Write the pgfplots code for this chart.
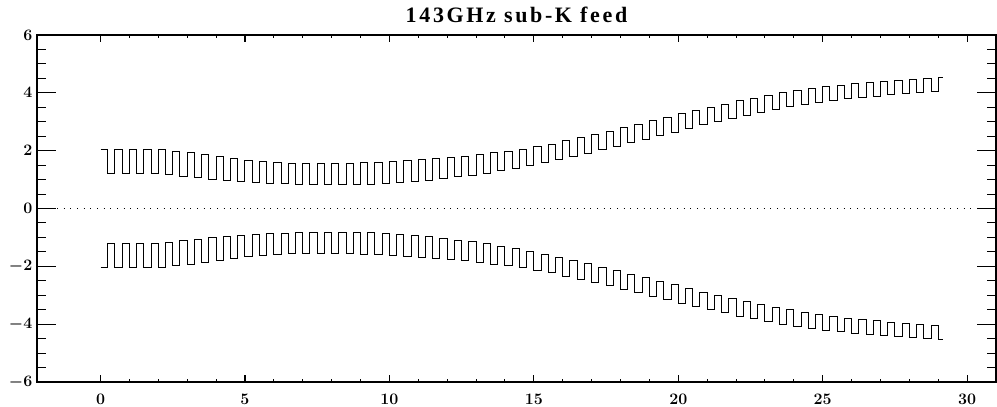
\documentclass[border=0pt]{standalone}
\usepackage{fontspec}
\setmainfont{Liberation Serif}
\usepackage{pgfplots}
\pgfplotsset{compat=1.18}
\newfontfamily\titlefont[LetterSpace=12]{Liberation Serif}
\begin{document}
\begin{tikzpicture}
\pgfplotsset{
 common/.style={
  scale only axis, width=719.25pt, height=260.25pt, at={(0,0)}, anchor=south west,
  xmin=-2.2, xmax=31, ymin=-6, ymax=6,
  axis line style={line width=0.9pt},
  every tick/.style={black, line width=0.8pt},
  tick label style={font=\fontsize{13}{15}\selectfont\boldmath},
 }
}
\begin{axis}[common, xtick={0,5,...,30}, minor x tick num=4, ytick=\empty,
  major tick length=5.25pt, minor tick length=2.6pt,
  xticklabel style={yshift=-5.5pt},
  title={\titlefont\bfseries 143GHz sub-K feed},
  title style={at={(0.5,1)}, anchor=base, yshift=3pt, font=\fontsize{16.5}{19}\selectfont}]
\addplot[black, line width=0.75pt, dash pattern=on 0.75pt off 4.25pt] coordinates {(-2.2,0) (31,0)};
\addplot[const plot, black, line width=0.75pt] coordinates {
(0,2.04)(0.25,1.21)(0.5,2.04)(0.75,1.21)(1,2.04)(1.25,1.21)(1.5,2.04)(1.75,1.21)(2,2.03)(2.25,1.18)(2.5,1.98)(2.75,1.12)(3,1.93)(3.25,1.07)(3.5,1.87)(3.75,1.02)(4,1.80)(4.25,0.97)(4.5,1.72)(4.75,0.93)(5,1.66)(5.25,0.89)(5.5,1.61)(5.75,0.87)(6,1.58)(6.25,0.85)(6.5,1.57)(6.75,0.84)(7,1.56)(7.25,0.83)(7.5,1.56)(7.75,0.83)(8,1.57)(8.25,0.83)(8.5,1.57)(8.75,0.83)(9,1.58)(9.25,0.84)(9.5,1.59)(9.75,0.86)(10,1.61)(10.25,0.89)(10.5,1.65)(10.75,0.93)(11,1.69)(11.25,0.98)(11.5,1.72)(11.75,1.03)(12,1.76)(12.25,1.09)(12.5,1.81)(12.75,1.15)(13,1.86)(13.25,1.22)(13.5,1.92)(13.75,1.30)(14,1.98)(14.25,1.39)(14.5,2.05)(14.75,1.48)(15,2.13)(15.25,1.58)(15.5,2.23)(15.75,1.68)(16,2.34)(16.25,1.80)(16.5,2.45)(16.75,1.91)(17,2.56)(17.25,2.03)(17.5,2.67)(17.75,2.15)(18,2.79)(18.25,2.27)(18.5,2.91)(18.75,2.40)(19,3.03)(19.25,2.52)(19.5,3.15)(19.75,2.64)(20,3.27)(20.25,2.77)(20.5,3.39)(20.75,2.89)(21,3.50)(21.25,3.01)(21.5,3.61)(21.75,3.12)(22,3.72)(22.25,3.23)(22.5,3.82)(22.75,3.33)(23,3.92)(23.25,3.43)(23.5,4.00)(23.75,3.51)(24,4.08)(24.25,3.60)(24.5,4.15)(24.75,3.67)(25,4.22)(25.25,3.74)(25.5,4.27)(25.75,3.79)(26,4.32)(26.25,3.84)(26.5,4.36)(26.75,3.88)(27,4.40)(27.25,3.93)(27.5,4.43)(27.75,3.96)(28,4.46)(28.25,4.00)(28.5,4.49)(28.75,4.03)(29,4.52)(29.15,4.52)
};
\addplot[const plot, black, line width=0.75pt] coordinates {
(0,-2.04)(0.25,-1.21)(0.5,-2.04)(0.75,-1.21)(1,-2.04)(1.25,-1.21)(1.5,-2.04)(1.75,-1.21)(2,-2.03)(2.25,-1.18)(2.5,-1.98)(2.75,-1.12)(3,-1.93)(3.25,-1.07)(3.5,-1.87)(3.75,-1.02)(4,-1.80)(4.25,-0.97)(4.5,-1.72)(4.75,-0.93)(5,-1.66)(5.25,-0.89)(5.5,-1.61)(5.75,-0.87)(6,-1.58)(6.25,-0.85)(6.5,-1.57)(6.75,-0.84)(7,-1.56)(7.25,-0.83)(7.5,-1.56)(7.75,-0.83)(8,-1.57)(8.25,-0.83)(8.5,-1.57)(8.75,-0.83)(9,-1.58)(9.25,-0.84)(9.5,-1.59)(9.75,-0.86)(10,-1.61)(10.25,-0.89)(10.5,-1.65)(10.75,-0.93)(11,-1.69)(11.25,-0.98)(11.5,-1.72)(11.75,-1.03)(12,-1.76)(12.25,-1.09)(12.5,-1.81)(12.75,-1.15)(13,-1.86)(13.25,-1.22)(13.5,-1.92)(13.75,-1.30)(14,-1.98)(14.25,-1.39)(14.5,-2.05)(14.75,-1.48)(15,-2.13)(15.25,-1.58)(15.5,-2.23)(15.75,-1.68)(16,-2.34)(16.25,-1.80)(16.5,-2.45)(16.75,-1.91)(17,-2.56)(17.25,-2.03)(17.5,-2.67)(17.75,-2.15)(18,-2.79)(18.25,-2.27)(18.5,-2.91)(18.75,-2.40)(19,-3.03)(19.25,-2.52)(19.5,-3.15)(19.75,-2.64)(20,-3.27)(20.25,-2.77)(20.5,-3.39)(20.75,-2.89)(21,-3.50)(21.25,-3.01)(21.5,-3.61)(21.75,-3.12)(22,-3.72)(22.25,-3.23)(22.5,-3.82)(22.75,-3.33)(23,-3.92)(23.25,-3.43)(23.5,-4.00)(23.75,-3.51)(24,-4.08)(24.25,-3.60)(24.5,-4.15)(24.75,-3.67)(25,-4.22)(25.25,-3.74)(25.5,-4.27)(25.75,-3.79)(26,-4.32)(26.25,-3.84)(26.5,-4.36)(26.75,-3.88)(27,-4.40)(27.25,-3.93)(27.5,-4.43)(27.75,-3.96)(28,-4.46)(28.25,-4.00)(28.5,-4.49)(28.75,-4.03)(29,-4.52)(29.15,-4.52)
};
\end{axis}
\begin{axis}[common, xtick=\empty, ytick={-6,-4,...,6}, minor y tick num=3,
  major tick length=14.25pt, minor tick length=7pt]
\end{axis}
\pgfresetboundingbox
\useasboundingbox (-27.75pt,-18.75pt) rectangle (720pt,286.5pt);
\end{tikzpicture}
\end{document}
